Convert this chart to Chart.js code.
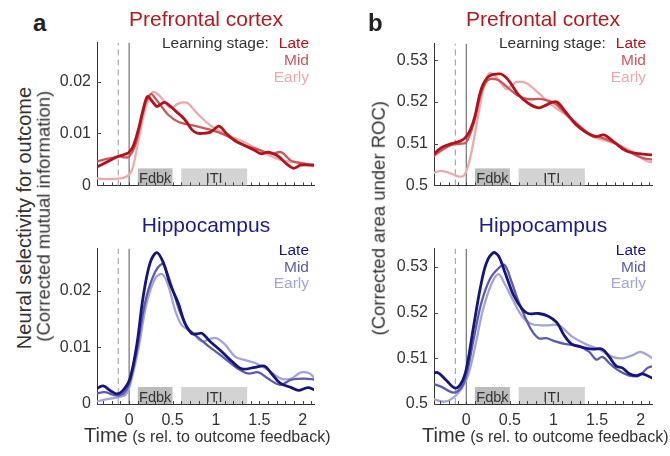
<!DOCTYPE html>
<html><head><meta charset="utf-8">
<script src="https://cdn.jsdelivr.net/npm/chart.js@4.4.0/dist/chart.umd.min.js"></script>
<style>
body{margin:0;width:670px;height:456px;background:#fff;position:relative;overflow:hidden;font-family:'Liberation Sans',Arial,sans-serif;}
.t{position:absolute;white-space:nowrap;line-height:1;}
canvas{position:absolute;}
</style></head><body>
<div id="root"></div>
<script>
// ---------------- DATA ----------------
const timeRange = [-0.37, 2.13];
const xTickValues = [0, 0.5, 1, 1.5, 2];
const miTicks = [0, 0.01, 0.02];
const miRange = [0, 0.0275];
const rocTicks = [0.5, 0.51, 0.52, 0.53];
const rocRange = [0.5, 0.534];
const feedbackTime = 0;
const cueTime = -0.125;
const epochNames = ['Fdbk', 'ITI'];
const epochStart = [0.1, 0.6];
const epochEnd = [0.5, 1.36];
const stageNames = ['Late', 'Mid', 'Early'];

// [time (s), value]
const pfcMiLate = [[-0.39,0.0034],[-0.3,0.0041],[-0.2,0.0050],[-0.12,0.0056],[-0.05,0.0060],[0.0,0.0064],[0.05,0.0077],[0.11,0.0110],[0.16,0.0145],[0.21,0.0171],[0.26,0.0163],[0.32,0.0152],[0.36,0.0156],[0.41,0.0160],[0.47,0.0153],[0.53,0.0144],[0.64,0.0127],[0.72,0.0108],[0.78,0.0101],[0.84,0.0100],[0.93,0.0102],[0.98,0.0108],[1.03,0.0114],[1.07,0.0110],[1.12,0.0100],[1.22,0.0086],[1.33,0.0077],[1.45,0.0067],[1.52,0.0061],[1.60,0.0064],[1.66,0.0061],[1.72,0.0056],[1.81,0.0042],[1.89,0.0033],[1.94,0.0036],[1.97,0.0039],[2.14,0.0039]];
const pfcMiMid = [[-0.39,0.0045],[-0.28,0.0050],[-0.2,0.0053],[-0.12,0.0056],[-0.05,0.0054],[0.0,0.0055],[0.07,0.0077],[0.15,0.0133],[0.20,0.0163],[0.25,0.0176],[0.30,0.0168],[0.36,0.0155],[0.45,0.0136],[0.57,0.0122],[0.72,0.0116],[0.87,0.0110],[1.03,0.0102],[1.18,0.0091],[1.33,0.0077],[1.49,0.0069],[1.64,0.0061],[1.75,0.0064],[1.87,0.0047],[2.02,0.0042],[2.14,0.0039]];
const pfcMiEarly = [[-0.39,0.0014],[-0.24,0.0012],[-0.08,0.0014],[-0.02,0.0018],[0.02,0.0025],[0.05,0.0039],[0.11,0.0089],[0.18,0.0144],[0.24,0.0172],[0.28,0.0180],[0.36,0.0171],[0.45,0.0152],[0.50,0.0150],[0.57,0.0158],[0.64,0.0160],[0.68,0.0158],[0.80,0.0136],[0.95,0.0114],[1.14,0.0097],[1.33,0.0083],[1.49,0.0069],[1.64,0.0056],[1.79,0.0047],[1.95,0.0045],[2.14,0.0036]];

const pfcRocLate = [[-0.40,0.5069],[-0.29,0.5090],[-0.17,0.5100],[-0.06,0.5107],[0.0,0.5117],[0.05,0.5135],[0.10,0.5166],[0.15,0.5215],[0.19,0.5241],[0.24,0.5258],[0.29,0.5265],[0.35,0.5267],[0.40,0.5267],[0.45,0.5260],[0.50,0.5248],[0.60,0.5217],[0.71,0.5197],[0.83,0.5186],[0.92,0.5193],[0.98,0.5199],[1.04,0.5200],[1.14,0.5176],[1.25,0.5148],[1.37,0.5128],[1.48,0.5117],[1.58,0.5121],[1.70,0.5103],[1.83,0.5083],[1.98,0.5076],[2.14,0.5073]];
const pfcRocMid = [[-0.40,0.5066],[-0.29,0.5083],[-0.17,0.5097],[-0.06,0.5100],[0.0,0.5103],[0.08,0.5145],[0.17,0.5221],[0.22,0.5245],[0.27,0.5255],[0.37,0.5252],[0.48,0.5234],[0.58,0.5217],[0.71,0.5207],[0.87,0.5207],[1.02,0.5196],[1.14,0.5172],[1.25,0.5152],[1.41,0.5124],[1.56,0.5114],[1.72,0.5100],[1.87,0.5080],[2.02,0.5066],[2.14,0.5062]];
const pfcRocEarly = [[-0.40,0.5028],[-0.29,0.5035],[-0.17,0.5028],[-0.08,0.5021],[-0.02,0.5025],[0.04,0.5062],[0.10,0.5124],[0.17,0.5207],[0.22,0.5250],[0.27,0.5269],[0.35,0.5258],[0.46,0.5231],[0.52,0.5240],[0.58,0.5248],[0.69,0.5245],[0.83,0.5221],[0.98,0.5193],[1.14,0.5169],[1.29,0.5138],[1.45,0.5117],[1.60,0.5107],[1.75,0.5097],[1.91,0.5080],[2.06,0.5059],[2.14,0.5055]];

const hpcMiLate = [[-0.39,0.0026],[-0.30,0.0032],[-0.22,0.0024],[-0.14,0.0018],[-0.06,0.0026],[0.01,0.0045],[0.09,0.0106],[0.16,0.0188],[0.24,0.0249],[0.32,0.0268],[0.40,0.0248],[0.47,0.0213],[0.57,0.0177],[0.64,0.0144],[0.72,0.0125],[0.78,0.0124],[0.84,0.0125],[0.93,0.0111],[1.05,0.0095],[1.18,0.0076],[1.30,0.0062],[1.45,0.0065],[1.56,0.0067],[1.64,0.0054],[1.74,0.0037],[1.87,0.0029],[1.95,0.0024],[2.06,0.0029],[2.14,0.0025]];
const hpcMiMid = [[-0.39,0.0018],[-0.28,0.0021],[-0.14,0.0015],[-0.05,0.0021],[0.01,0.0040],[0.09,0.0095],[0.18,0.0177],[0.28,0.0227],[0.38,0.0248],[0.43,0.0235],[0.51,0.0199],[0.59,0.0161],[0.68,0.0133],[0.80,0.0117],[0.91,0.0103],[1.03,0.0089],[1.14,0.0076],[1.26,0.0062],[1.37,0.0054],[1.49,0.0056],[1.60,0.0045],[1.74,0.0034],[1.87,0.0043],[2.02,0.0045],[2.14,0.0043]];
const hpcMiEarly = [[-0.39,0.0004],[-0.24,0.0009],[-0.12,0.0012],[-0.03,0.0018],[0.03,0.0045],[0.11,0.0100],[0.20,0.0177],[0.30,0.0222],[0.38,0.0230],[0.45,0.0210],[0.53,0.0166],[0.61,0.0139],[0.72,0.0128],[0.84,0.0111],[0.99,0.0117],[1.10,0.0106],[1.22,0.0084],[1.33,0.0078],[1.49,0.0070],[1.64,0.0056],[1.75,0.0045],[1.87,0.0045],[1.98,0.0056],[2.08,0.0054],[2.14,0.0045]];

const hpcRocLate = [[-0.40,0.5066],[-0.33,0.5069],[-0.23,0.5052],[-0.13,0.5035],[-0.06,0.5045],[0.0,0.5076],[0.08,0.5165],[0.16,0.5253],[0.23,0.5308],[0.31,0.5331],[0.37,0.5324],[0.44,0.5290],[0.54,0.5239],[0.64,0.5208],[0.71,0.5198],[0.83,0.5198],[0.94,0.5192],[1.04,0.5178],[1.12,0.5151],[1.21,0.5131],[1.33,0.5124],[1.45,0.5120],[1.56,0.5120],[1.64,0.5103],[1.72,0.5083],[1.79,0.5079],[1.87,0.5066],[1.95,0.5062],[2.02,0.5066],[2.14,0.5056]];
const hpcRocMid = [[-0.40,0.5045],[-0.29,0.5038],[-0.15,0.5025],[-0.06,0.5035],[0.0,0.5062],[0.08,0.5137],[0.17,0.5219],[0.27,0.5273],[0.37,0.5297],[0.44,0.5304],[0.52,0.5267],[0.59,0.5229],[0.67,0.5192],[0.75,0.5161],[0.83,0.5144],[0.92,0.5144],[1.02,0.5137],[1.14,0.5131],[1.29,0.5127],[1.41,0.5114],[1.49,0.5097],[1.56,0.5103],[1.66,0.5086],[1.75,0.5073],[1.87,0.5062],[1.98,0.5062],[2.08,0.5079],[2.14,0.5083]];
const hpcRocEarly = [[-0.40,0.5012],[-0.25,0.5005],[-0.14,0.5015],[-0.05,0.5035],[0.02,0.5062],[0.10,0.5124],[0.19,0.5205],[0.29,0.5263],[0.37,0.5284],[0.44,0.5263],[0.54,0.5226],[0.64,0.5192],[0.75,0.5175],[0.91,0.5172],[1.06,0.5172],[1.21,0.5148],[1.37,0.5131],[1.52,0.5120],[1.68,0.5103],[1.79,0.5100],[1.91,0.5107],[2.00,0.5114],[2.14,0.5100]];

// ---------------- STYLE / LAYOUT ----------------
const FONT = "'Liberation Sans', Arial, sans-serif";
const pfcColors = ['#b3121b', '#c8585d', '#eaabad'];
const hpcColors = ['#15157c', '#5c5cab', '#a4a5d7'];
const pfcTitleColor = '#b01a21';
const hpcTitleColor = '#1b1b8b';
const epochColors = ['#bcbcbc', '#d3d3d3'];
const textColor = '#333';

const root = document.getElementById('root');
function addText(html, style) {
  const d = document.createElement('div');
  d.className = 't';
  d.innerHTML = html;
  Object.assign(d.style, style);
  root.appendChild(d);
  return d;
}

const deco = {
  id: 'deco',
  beforeDatasetsDraw(chart) {
    const {ctx, chartArea: a, scales: {x}} = chart;
    ctx.save();
    epochNames.forEach((n, i) => {
      const x0 = x.getPixelForValue(epochStart[i]);
      const x1 = x.getPixelForValue(epochEnd[i]);
      ctx.fillStyle = epochColors[i];
      ctx.fillRect(x0, a.bottom - 17, x1 - x0, 17);
      ctx.fillStyle = textColor;
      ctx.font = '14.5px ' + FONT;
      ctx.textAlign = 'center';
      ctx.textBaseline = 'alphabetic';
      ctx.fillText(n, (x0 + x1) / 2, a.bottom - 2);
    });
    ctx.restore();
  },
  afterDraw(chart) {
    const {ctx, chartArea: a, scales: {x, y}} = chart;
    ctx.save();
    ctx.strokeStyle = '#444';
    ctx.lineWidth = 1;
    ctx.beginPath();
    y.ticks.forEach(t => {
      const py = Math.round(y.getPixelForValue(t.value)) + 0.5;
      ctx.moveTo(a.left, py); ctx.lineTo(a.left + 4, py);
    });
    for (let k = -3; k <= 21; k++) {
      const px = Math.round(x.getPixelForValue(k / 10)) + 0.5;
      ctx.moveTo(px, a.bottom); ctx.lineTo(px, a.bottom - 3);
    }
    ctx.stroke();
    ctx.restore();
  }
};

function makePanel(p) {
  const yW = 50, pad = 4, xH = p.showX ? 32 : 4;
  const w = (p.r - p.l) + yW + pad;
  const h = (p.b - p.t) + pad + xH;
  const c = document.createElement('canvas');
  c.width = w; c.height = h;
  c.style.left = (p.l - yW) + 'px';
  c.style.top = (p.t - pad) + 'px';
  c.style.width = w + 'px'; c.style.height = h + 'px';
  root.appendChild(c);
  const yMin = p.yRange[0], yMax = p.yRange[1];
  const datasets = p.series.map((s, i) => ({
    data: s.map(([x, y]) => ({x, y})),
    borderColor: p.colors[i],
    borderWidth: i === 0 ? 2.8 : 2.3,
    pointRadius: 0,
    tension: 0.35,
    fill: false,
    order: i
  }));
  datasets.push({
    data: [{x: feedbackTime, y: yMin}, {x: feedbackTime, y: yMax}],
    borderColor: '#555', borderWidth: 1, pointRadius: 0, order: 10
  });
  datasets.push({
    data: [{x: cueTime, y: yMin}, {x: cueTime, y: yMax}],
    borderColor: '#a8a8a8', borderWidth: 1.2, borderDash: [6, 4], pointRadius: 0, order: 11
  });
  new Chart(c, {
    type: 'line',
    data: {datasets},
    options: {
      responsive: false, animation: false, events: [],
      layout: {padding: {top: pad, right: pad, left: 0, bottom: 0}},
      plugins: {legend: {display: false}, tooltip: {enabled: false}},
      scales: {
        x: {
          type: 'linear', min: timeRange[0], max: timeRange[1],
          grid: {display: false, drawTicks: false},
          border: {display: true, color: '#333', width: 1},
          afterBuildTicks: s => { s.ticks = xTickValues.map(v => ({value: v})); },
          afterFit: s => { s.height = xH; },
          ticks: {display: p.showX, padding: 7, color: textColor, font: {family: FONT, size: 16},
                  callback: v => String(v), maxRotation: 0, autoSkip: false}
        },
        y: {
          type: 'linear', min: yMin, max: yMax,
          grid: {display: false, drawTicks: false},
          border: {display: true, color: '#333', width: 1},
          afterBuildTicks: s => { s.ticks = p.yTicks.map(v => ({value: v})); },
          afterFit: s => { s.width = yW; },
          ticks: {padding: 6, color: textColor, font: {family: FONT, size: 16}, callback: v => String(v)}
        }
      }
    },
    plugins: [deco]
  });
}

const panels = [
  {l: 97, r: 314, t: 31, b: 197, showX: false, yRange: miRange, yTicks: miTicks, series: [pfcMiLate, pfcMiMid, pfcMiEarly], colors: pfcColors},
  {l: 434, r: 652, t: 32, b: 197, showX: false, yRange: rocRange, yTicks: rocTicks, series: [pfcRocLate, pfcRocMid, pfcRocEarly], colors: pfcColors},
  {l: 97, r: 314, t: 237, b: 404, showX: true, yRange: miRange, yTicks: miTicks, series: [hpcMiLate, hpcMiMid, hpcMiEarly], colors: hpcColors},
  {l: 434, r: 652, t: 237, b: 404, showX: true, yRange: rocRange, yTicks: rocTicks, series: [hpcRocLate, hpcRocMid, hpcRocEarly], colors: hpcColors}
];
panels.forEach(makePanel);

// ---------------- TEXT ----------------
// panel letters
addText('a', {left: '33px', top: (31.5 - 0.8465 * 24) + 'px', fontSize: '24px', fontWeight: 'bold', color: '#222'});
addText('b', {left: '368px', top: (31.5 - 0.8465 * 24) + 'px', fontSize: '24px', fontWeight: 'bold', color: '#222'});

// region titles
function title(txt, cx, base, color) {
  addText(txt, {left: (cx - 150) + 'px', width: '300px', textAlign: 'center', top: (base - 0.8465 * 21) + 'px', fontSize: '21px', color});
}
title('Prefrontal cortex', 206, 25.5, pfcTitleColor);
title('Prefrontal cortex', 543, 25.5, pfcTitleColor);
title('Hippocampus', 206, 231.5, hpcTitleColor);
title('Hippocampus', 543, 231.5, hpcTitleColor);

// legends
function legend(right, bases, colors, withHeader) {
  stageNames.forEach((n, i) => {
    const head = (i === 0 && withHeader) ? '<span style="color:#333">Learning stage:</span><span style="display:inline-block;width:10px"></span>' : '';
    addText(head + '<span style="color:' + colors[i] + '">' + n + '</span>',
      {right: (670 - right) + 'px', textAlign: 'right', top: (bases[i] - 0.8465 * 15.5) + 'px', fontSize: '15.5px'});
  });
}
legend(309, [48, 65, 82], pfcColors, true);
legend(646, [48, 65, 82], pfcColors, true);
legend(309, [255, 272, 288.5], hpcColors, false);
legend(646, [255, 272, 288.5], hpcColors, false);

// y-axis titles (rotated)
function yTitle(txt, baseX, cy, size) {
  const W = 320;
  const cx = baseX - 0.3465 * size;
  addText(txt, {left: (cx - W / 2) + 'px', top: (cy - size / 2) + 'px', width: W + 'px', height: size + 'px',
    textAlign: 'center', fontSize: size + 'px', color: textColor, transform: 'rotate(-90deg)', transformOrigin: '50% 50%'});
}
yTitle('Neural selectivity for outcome', 31, 217.5, 20);
yTitle('(Corrected mutual information)', 50, 216, 18.5);
yTitle('(Corrected area under ROC)', 385, 218.5, 18.5);

// x-axis titles
function xTitle(left) {
  addText('<span style="font-size:20px">Time</span><span style="font-size:16px"> (s rel. to outcome feedback)</span>',
    {left: left + 'px', top: (441.7 - 0.8465 * 20) + 'px', fontSize: '20px', color: textColor});
}
xTitle(84);
xTitle(422);
</script>
</body></html>
